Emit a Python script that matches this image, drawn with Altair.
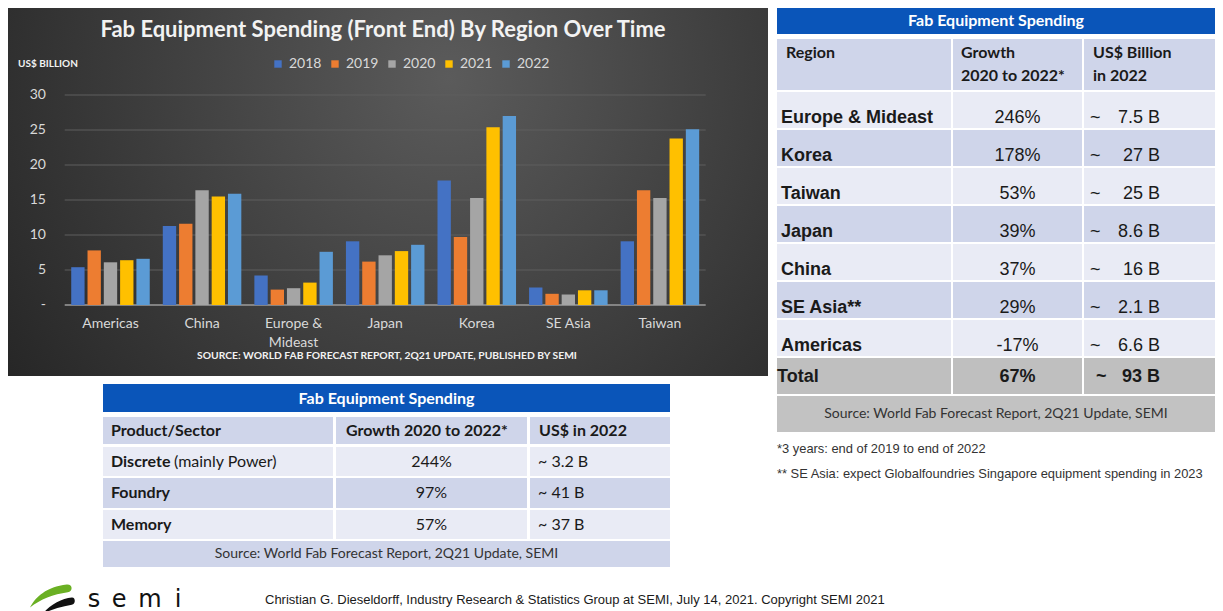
import altair as alt
import pandas as pd

# ---------------- data ----------------
regions = ["Americas", "China", "Europe & Mideast", "Japan", "Korea", "SE Asia", "Taiwan"]
region_labels = ["Americas", "China", "Europe &\nMideast", "Japan", "Korea", "SE Asia", "Taiwan"]
years = ["2018", "2019", "2020", "2021", "2022"]
spend_2018 = [5.4, 11.3, 4.2, 9.1, 17.8, 2.5, 9.1]
spend_2019 = [7.8, 11.6, 2.2, 6.2, 9.7, 1.6, 16.4]
spend_2020 = [6.1, 16.4, 2.4, 7.1, 15.3, 1.5, 15.3]
spend_2021 = [6.4, 15.5, 3.2, 7.7, 25.4, 2.1, 23.8]
spend_2022 = [6.6, 15.9, 7.6, 8.6, 27.0, 2.1, 25.1]
year_colors = ["#4472c4", "#ed7d31", "#a5a5a5", "#ffc000", "#5b9bd5"]
y_ticks = [0, 5, 10, 15, 20, 25, 30]
y_tick_labels = ["-", "5", "10", "15", "20", "25", "30"]
chart_title = "Fab Equipment Spending (Front End) By Region Over Time"
y_unit = "US$ BILLION"
chart_source = "SOURCE: WORLD FAB FORECAST REPORT, 2Q21 UPDATE, PUBLISHED BY SEMI"

table_title = "Fab Equipment Spending"
region_headers = ["Region", "Growth\n2020 to 2022*", "US$ Billion\nin 2022"]
tbl_regions = ["Europe & Mideast", "Korea", "Taiwan", "Japan", "China", "SE Asia**", "Americas"]
tbl_growth = ["246%", "178%", "53%", "39%", "37%", "29%", "-17%"]
tbl_billion = ["7.5 B", "27 B", "25 B", "8.6 B", "16 B", "2.1 B", "6.6 B"]
total_label, total_growth, total_billion = "Total", "67%", "93 B"
region_source = "Source: World Fab Forecast Report, 2Q21 Update, SEMI"
footnotes = ["*3 years: end of 2019 to end of 2022",
             "** SE Asia: expect Globalfoundries Singapore equipment spending in 2023"]

sector_headers = ["Product/Sector", "Growth 2020 to 2022*", "US$ in 2022"]
sectors = ["Discrete", "Foundry", "Memory"]
sector_notes = ["(mainly Power)", "", ""]
sector_growth = ["244%", "97%", "57%"]
sector_usd = ["~ 3.2 B", "~ 41 B", "~ 37 B"]
sector_source = "Source: World Fab Forecast Report, 2Q21 Update, SEMI"

credit = "Christian G. Dieseldorff, Industry Research & Statistics Group at SEMI, July 14, 2021. Copyright SEMI  2021"
logo_letters = ["s", "e", "m", "i"]

# ---------------- styles ----------------
BLUE = "#0a55b9"
LAV = "#cfd5ea"
LIGHT = "#e9ebf5"
GREY = "#bfbfbf"
INK = "#1a1a1a"
CAL = "Lato"
ARI = "Liberation Sans"


def cells_layer(df, sx, sy):
    return alt.Chart(df).mark_rect().encode(
        x=alt.X("x0:Q", scale=sx, axis=None), x2="x1:Q",
        y=alt.Y("y0:Q", scale=sy, axis=None), y2="y1:Q",
        color=alt.Color("fill:N", scale=None))


def text_layer(df, sx, sy, **kw):
    return alt.Chart(df).mark_text(**kw).encode(
        x=alt.X("x:Q", scale=sx, axis=None),
        y=alt.Y("y:Q", scale=sy, axis=None),
        text="t:N")


# ---------------- dark bar chart panel ----------------
W1, H1 = 760, 368
PX0, PX1 = 56.7, 697.7
yscale = alt.Scale(domain=[0, 30], range=[297, 87], nice=False)
xscale = alt.Scale(domain=regions, range=[PX0, PX1], paddingInner=0, paddingOuter=0)

series = [spend_2018, spend_2019, spend_2020, spend_2021, spend_2022]
bars_df = pd.DataFrame([{"region": r, "year": y, "value": v}
                        for y, vals in zip(years, series) for r, v in zip(regions, vals)])
one = pd.DataFrame({"a": [0]})

bg = alt.Chart(one).mark_rect(fill={
    "gradient": "radial",
    "stops": [{"offset": 0, "color": "#5b5b5b"}, {"offset": 1, "color": "#252525"}],
    "x1": 0.58, "y1": 0.35, "x2": 0.58, "y2": 0.35, "r1": 0, "r2": 0.72}).encode(
    x=alt.value(0), x2=alt.value(W1), y=alt.value(0), y2=alt.value(H1))

grid = alt.Chart(pd.DataFrame({"v": y_ticks[1:]})).mark_rule(color="#5e5e5e", strokeWidth=1).encode(
    y=alt.Y("v:Q", scale=yscale, axis=None), x=alt.value(PX0), x2=alt.value(PX1))
base = alt.Chart(pd.DataFrame({"v": [0]})).mark_rule(color="#9c9c9c", strokeWidth=1.5).encode(
    y=alt.Y("v:Q", scale=yscale, axis=None), x=alt.value(PX0), x2=alt.value(PX1))

bars = alt.Chart(bars_df).mark_bar().encode(
    x=alt.X("region:N", scale=xscale, axis=None, sort=regions),
    xOffset=alt.XOffset("year:N", sort=years, scale=alt.Scale(paddingInner=0.18, paddingOuter=0.4)),
    y=alt.Y("value:Q", scale=yscale, axis=None),
    color=alt.Color("year:N", sort=years, scale=alt.Scale(domain=years, range=year_colors),
                    legend=alt.Legend(orient="none", legendX=263, legendY=49, direction="horizontal",
                                      title=None, symbolType="square", symbolSize=55,
                                      symbolStrokeWidth=0, labelColor="#d9d9d9", labelFont=CAL,
                                      labelFontSize=14, labelOffset=4, columnPadding=6)))

ylab = alt.Chart(pd.DataFrame({"v": y_ticks, "t": y_tick_labels})).mark_text(
    align="right", baseline="middle", font=CAL, fontSize=14, color="#d9d9d9").encode(
    y=alt.Y("v:Q", scale=yscale, axis=None), x=alt.value(38), text="t:N")

xlab = alt.Chart(pd.DataFrame({"region": regions, "label": region_labels})).mark_text(
    baseline="top", font=CAL, fontSize=14, color="#d9d9d9", lineBreak="\n", lineHeight=19).encode(
    x=alt.X("region:N", scale=xscale, axis=None, sort=regions), y=alt.value(309), text="label:N")

ttl = alt.Chart(pd.DataFrame({"t": [chart_title]})).mark_text(
    font=CAL, fontSize=22, fontWeight="bold", color="#f2f2f2", baseline="middle").encode(
    x=alt.value(375), y=alt.value(22), text="t:N")
unit = alt.Chart(pd.DataFrame({"t": [y_unit]})).mark_text(
    font=CAL, fontSize=10, fontWeight="bold", color="#f2f2f2", baseline="middle", align="left").encode(
    x=alt.value(10), y=alt.value(56), text="t:N")
src = alt.Chart(pd.DataFrame({"t": [chart_source]})).mark_text(
    font=CAL, fontSize=10.3, fontWeight="bold", color="#f2f2f2", baseline="middle").encode(
    x=alt.value(379), y=alt.value(348), text="t:N")

dark = alt.layer(bg, grid, base, bars, ylab, xlab, ttl, unit, src).properties(width=W1, height=H1)

# ---------------- right table (regions) ----------------
RW, RH = 438, 480
rsx = alt.Scale(domain=[0, RW], range=[0, RW], nice=False, zero=False)
rsy = alt.Scale(domain=[0, RH], range=[0, RH], nice=False, zero=False)
rcols = [(0, 174), (176, 305), (307, 438)]
R_TOP, R_PITCH, R_H = 84, 38, 36

cells = [{"x0": 0, "x1": RW, "y0": 0, "y1": 26, "fill": BLUE}]
for c0, c1 in rcols:
    cells.append({"x0": c0, "x1": c1, "y0": 31, "y1": 82, "fill": LAV})
for i in range(len(tbl_regions) + 1):
    top = R_TOP + i * R_PITCH
    fill = GREY if i == len(tbl_regions) else (LIGHT if i % 2 == 0 else LAV)
    for c0, c1 in rcols:
        cells.append({"x0": c0, "x1": c1, "y0": top, "y1": top + R_H, "fill": fill})
src_top = R_TOP + (len(tbl_regions) + 1) * R_PITCH
cells.append({"x0": 0, "x1": RW, "y0": src_top, "y1": src_top + R_H, "fill": "#c2c2c2"})
rcells = cells_layer(pd.DataFrame(cells), rsx, rsy)

r_title = text_layer(pd.DataFrame([{"x": RW / 2, "y": 13, "t": table_title}]), rsx, rsy,
                     font=CAL, fontSize=16, fontWeight="bold", color="white", baseline="middle")
hx = [9, 184, 316]
hrows = []
for h, x in zip(region_headers, hx):
    for k, line in enumerate(h.split("\n")):
        hrows.append({"x": x, "y": 45 + 23 * k, "t": line})
r_head = text_layer(pd.DataFrame(hrows), rsx, rsy, font=CAL, fontSize=16, fontWeight="bold",
                    color=INK, baseline="middle", align="left")

ry = [R_TOP + i * R_PITCH + 26 for i in range(len(tbl_regions))]
r_names = text_layer(pd.DataFrame({"x": 4, "y": ry, "t": tbl_regions}), rsx, rsy,
                     font=ARI, fontSize=18, fontWeight="bold", color=INK, baseline="middle", align="left")
r_growth = text_layer(pd.DataFrame({"x": 240.5, "y": ry, "t": tbl_growth}), rsx, rsy,
                      font=ARI, fontSize=18, color=INK, baseline="middle", align="center")
r_tilde = text_layer(pd.DataFrame({"x": 313, "y": ry, "t": ["~"] * len(ry)}), rsx, rsy,
                     font=ARI, fontSize=18, color=INK, baseline="middle", align="left")
r_bill = text_layer(pd.DataFrame({"x": 383, "y": ry, "t": tbl_billion}), rsx, rsy,
                    font=ARI, fontSize=18, color=INK, baseline="middle", align="right")
tot_y = R_TOP + len(tbl_regions) * R_PITCH + 19
r_total = text_layer(pd.DataFrame([{"x": 0, "y": tot_y, "t": total_label},
                                   {"x": 319, "y": tot_y, "t": "~"}]), rsx, rsy,
                     font=ARI, fontSize=18, fontWeight="bold", color=INK, baseline="middle", align="left")
r_total_g = text_layer(pd.DataFrame([{"x": 240.5, "y": tot_y, "t": total_growth}]), rsx, rsy,
                       font=ARI, fontSize=18, fontWeight="bold", color=INK, baseline="middle", align="center")
r_total_b = text_layer(pd.DataFrame([{"x": 383, "y": tot_y, "t": total_billion}]), rsx, rsy,
                       font=ARI, fontSize=18, fontWeight="bold", color=INK, baseline="middle", align="right")
r_src = text_layer(pd.DataFrame([{"x": RW / 2, "y": src_top + 18, "t": region_source}]), rsx, rsy,
                   font=CAL, fontSize=14, color="#333333", baseline="middle", align="center")
r_notes = text_layer(pd.DataFrame({"x": 0, "y": [441, 466], "t": footnotes}), rsx, rsy,
                     font=ARI, fontSize=12.9, color="#333333", baseline="middle", align="left")

right = alt.layer(rcells, r_title, r_head, r_names, r_growth, r_tilde, r_bill, r_total,
                  r_total_g, r_total_b, r_src, r_notes).properties(width=RW, height=RH)

# ---------------- bottom table (sectors) ----------------
BW, BH = 662, 183
bsx = alt.Scale(domain=[0, BW], range=[0, BW], nice=False, zero=False)
bsy = alt.Scale(domain=[0, BH], range=[0, BH], nice=False, zero=False)
bcols = [(95, 325), (328, 519), (522, 662)]
brows = [(33, 60), (63, 92), (94, 124), (126, 155)]
bcells = [{"x0": 95, "x1": 662, "y0": 0, "y1": 28, "fill": BLUE}]
for i, (r0, r1) in enumerate(brows):
    fill = LAV if i % 2 == 0 else LIGHT
    for c0, c1 in bcols:
        bcells.append({"x0": c0, "x1": c1, "y0": r0, "y1": r1, "fill": fill})
bcells.append({"x0": 95, "x1": 662, "y0": 157, "y1": 183, "fill": LAV})
bcl = cells_layer(pd.DataFrame(bcells), bsx, bsy)

bmid = (95 + 662) / 2
b_title = text_layer(pd.DataFrame([{"x": bmid, "y": 15, "t": table_title}]), bsx, bsy,
                     font=CAL, fontSize=16, fontWeight="bold", color="white", baseline="middle")
b_head = text_layer(pd.DataFrame({"x": [103, 338, 531], "y": 46.5, "t": sector_headers}), bsx, bsy,
                    font=CAL, fontSize=16, fontWeight="bold", color=INK, baseline="middle", align="left")
by = [(r0 + r1) / 2 for r0, r1 in brows[1:]]
b_names = text_layer(pd.DataFrame({"x": 103, "y": by, "t": sectors}), bsx, bsy,
                     font=CAL, fontSize=16, fontWeight="bold", color=INK, baseline="middle", align="left")
b_notes = text_layer(pd.DataFrame({"x": 166, "y": by, "t": sector_notes}), bsx, bsy,
                     font=CAL, fontSize=16, color=INK, baseline="middle", align="left")
b_growth = text_layer(pd.DataFrame({"x": 423.5, "y": by, "t": sector_growth}), bsx, bsy,
                      font=CAL, fontSize=16, color=INK, baseline="middle", align="center")
b_usd = text_layer(pd.DataFrame({"x": 530, "y": by, "t": sector_usd}), bsx, bsy,
                   font=CAL, fontSize=16, color=INK, baseline="middle", align="left")
b_src = text_layer(pd.DataFrame([{"x": bmid, "y": 170, "t": sector_source}]), bsx, bsy,
                   font=CAL, fontSize=14, color="#333333", baseline="middle", align="center")

bottom = alt.layer(bcl, b_title, b_head, b_names, b_notes, b_growth, b_usd, b_src).properties(
    width=BW, height=BH)

# ---------------- footer ----------------
FW, FH = W1 + 9 + RW, 44
fsx = alt.Scale(domain=[0, FW], range=[0, FW], nice=False, zero=False)
fsy = alt.Scale(domain=[0, FH], range=[0, FH], nice=False, zero=False)
green_path = ("M -1 0.55 C -0.75 0.05 -0.2 -0.45 0.75 -0.55 C 1.05 -0.57 1.05 -0.22 0.8 -0.18 "
              "C 0.1 -0.08 -0.5 0.15 -1 0.55 Z")
black_path = ("M -1 0.6 C -0.5 0.0 0.2 -0.35 0.8 -0.4 C 1.05 -0.42 1.05 0.02 0.8 0.05 "
              "C 0.2 0.15 -0.4 0.3 -1 0.6 Z")
f_green = alt.Chart(pd.DataFrame({"x": [43], "y": [29]})).mark_point(
    shape=green_path, filled=True, size=1764, color="#6ab023", opacity=1, strokeWidth=0).encode(
    x=alt.X("x:Q", scale=fsx, axis=None), y=alt.Y("y:Q", scale=fsy, axis=None))
f_black = alt.Chart(pd.DataFrame({"x": [51], "y": [37]})).mark_point(
    shape=black_path, filled=True, size=1024, color="#111111", opacity=1, strokeWidth=0).encode(
    x=alt.X("x:Q", scale=fsx, axis=None), y=alt.Y("y:Q", scale=fsy, axis=None))
f_logo = text_layer(pd.DataFrame({"x": [86, 111, 142, 170], "y": 33, "t": logo_letters}), fsx, fsy,
                    font="DejaVu Sans", fontSize=24, color="#111111", baseline="middle", align="center")
f_credit = text_layer(pd.DataFrame([{"x": 257, "y": 33, "t": credit}]), fsx, fsy,
                      font=ARI, fontSize=13, color=INK, baseline="middle", align="left")
footer = alt.layer(f_green, f_black, f_logo, f_credit).properties(width=FW, height=FH)

# ---------------- compose ----------------
left = alt.vconcat(dark, bottom, spacing=8)
row1 = alt.hconcat(left, right, spacing=9)
chart = alt.vconcat(row1, footer, spacing=0).properties(padding=0).configure(
    background="white", view=alt.ViewConfig(stroke=None))

chart.save("out.html", embed_options={"renderer": "svg", "actions": False})
